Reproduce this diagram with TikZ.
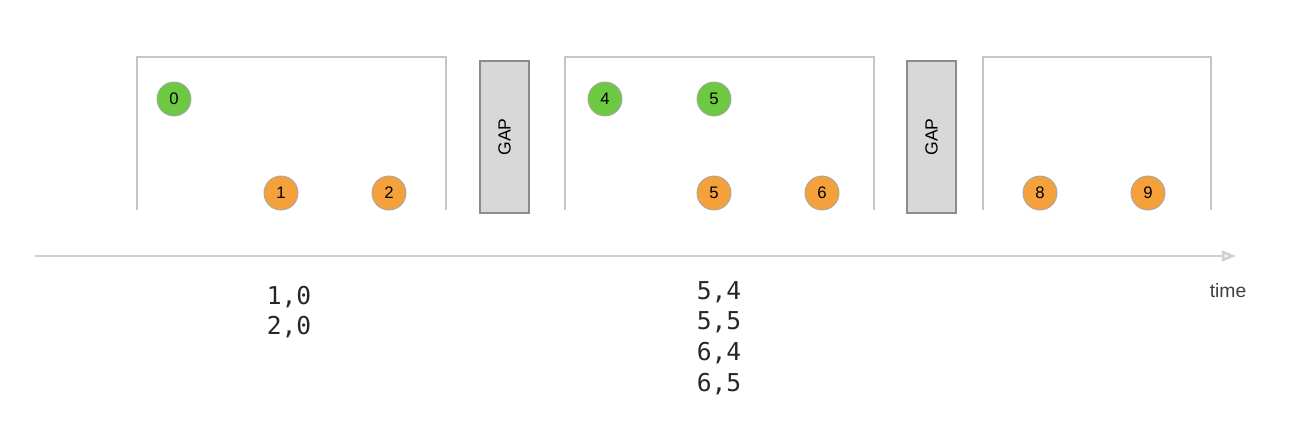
\documentclass[tikz,border=0pt]{standalone}
\usepackage{fontspec}
\setmainfont{Liberation Sans}
\newfontfamily\monofont{DejaVu Sans Mono}
\usepackage{xcolor}
\usetikzlibrary{arrows.meta}
\definecolor{okgreen}{HTML}{6DC942}
\definecolor{lateorange}{HTML}{F5A13B}
\definecolor{framegray}{HTML}{C6C6C6}
\definecolor{gapfill}{HTML}{D8D8D8}

\begin{document}
\begin{tikzpicture}[x=0.02cm,y=-0.02cm,
    ev/.style={circle,draw=black!35,line width=0.5pt,minimum size=0.68cm,inner sep=0pt,font=\fontsize{9.5}{10}\selectfont},
    evgreen/.style={ev,fill=okgreen},
    evorange/.style={ev,fill=lateorange},
    gapbox/.style={draw=black!45,fill=gapfill,line width=0.6pt},
    pairs/.style={align=left,font=\monofont\fontsize{14}{17.5}\selectfont,text=black!85}]
    \useasboundingbox (0,0) rectangle (1310,434);
    % windows, open at the bottom
    \draw[framegray,line width=1pt] (137,210) -- (137,57) -- (446,57) -- (446,210);
    \draw[framegray,line width=1pt] (565,210) -- (565,57) -- (874,57) -- (874,210);
    \draw[framegray,line width=1pt] (983,210) -- (983,57) -- (1211,57) -- (1211,210);
    % gaps
    \draw[gapbox] (480,61) rectangle (529,213);
    \node[rotate=90,font=\fontsize{10}{12}\selectfont] (gapa) at (504.5,137) {GAP};
    \draw[gapbox] (907,61) rectangle (956,213);
    \node[rotate=90,font=\fontsize{10}{12}\selectfont] (gapb) at (931.5,137) {GAP};
    % events
    \node[evgreen] (e0) at (174,99) {0};
    \node[evorange] (e1) at (281,193) {1};
    \node[evorange] (e2) at (389,193) {2};
    \node[evgreen] (e4) at (605,99) {4};
    \node[evgreen] (e5) at (714,99) {5};
    \node[evorange] (l5) at (714,193) {5};
    \node[evorange] (l6) at (822,193) {6};
    \node[evorange] (l8) at (1040,193) {8};
    \node[evorange] (l9) at (1148,193) {9};
    % time axis
    \coordinate (tstart) at (35,256);
    \coordinate (tend) at (1236,256);
    \draw[black!18,line width=1.5pt,-{Triangle[open,length=8pt,width=6pt]}] (tstart) -- (tend);
    \node[font=\fontsize{11}{13}\selectfont,text=black!75] (time) at (1228,291) {time};
    % joined pairs
    \node[pairs] (joina) at (289,312) {1,0\\2,0};
    \node[pairs] (joinb) at (719,338) {5,4\\5,5\\6,4\\6,5};
\end{tikzpicture}
\end{document}
